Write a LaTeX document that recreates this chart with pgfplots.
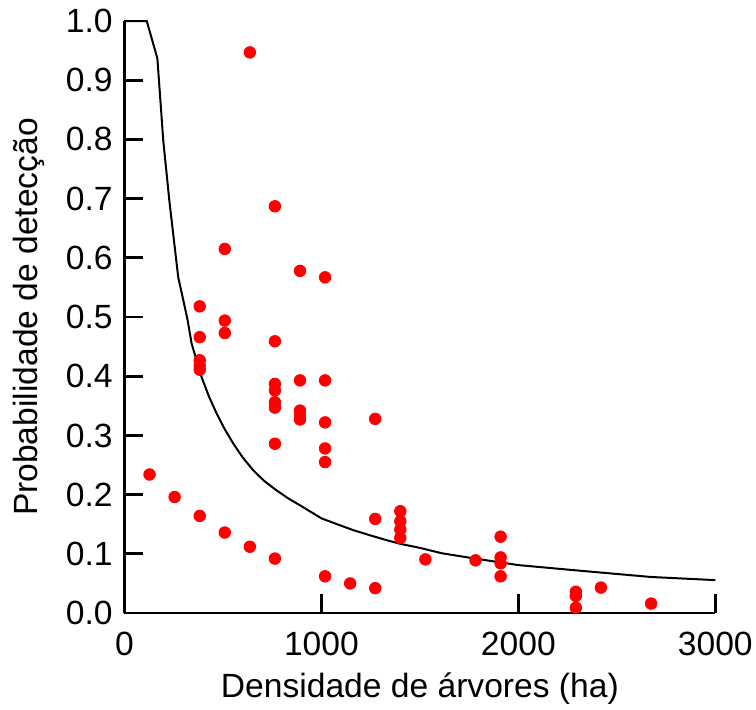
\documentclass[border=0pt]{standalone}
\usepackage{pgfplots}
\pgfplotsset{compat=1.18}
\usepackage{fontspec}
\setmainfont{Liberation Sans}
\begin{document}
\begin{tikzpicture}
\begin{axis}[
 scale only axis, width=295.4pt, height=296pt,
 xmin=0, xmax=3000, ymin=0, ymax=1,
 axis x line=bottom, axis y line=left,
 axis line style={-, line width=1.35pt, black},
 xtick={0,1000,2000,3000},
 ytick={0,0.1,0.2,0.3,0.4,0.5,0.6,0.7,0.8,0.9,1.0},
 minor tick num=0,
 tick align=inside, major tick length=9.5pt,
 tick style={line width=1.35pt, black},
 /pgf/number format/assume math mode=true,
 tick label style={font=\fontsize{16.8}{20}\selectfont, inner sep=0pt},
 x tick label style={/pgf/number format/1000 sep={}, anchor=north, yshift=-9.35pt},
 y tick label style={/pgf/number format/fixed, /pgf/number format/fixed zerofill, /pgf/number format/precision=1, anchor=east, xshift=-5.75pt},
 xlabel={Densidade de árvores (ha)},
 ylabel={Probabilidade de detecção},
 every axis x label/.style={at={(rel axis cs:0.5,-0.1419)}, anchor=base, inner sep=0pt, font=\fontsize{16.8}{20}\selectfont},
 every axis y label/.style={at={(rel axis cs:-0.1616,0.5)}, rotate=90, anchor=center, inner sep=0pt, font=\fontsize{16.8}{20}\selectfont},
 clip=false,
]
\path (rel axis cs:-0.2107,-0.1622) rectangle (rel axis cs:1.0689,1.0355);
\addplot[black, line width=1pt, no marks] coordinates {
(0,1.0) (113,1.0) (167,0.937) (197,0.798) (228,0.696) (273,0.567) (299,0.528)
(321,0.494) (341,0.455) (392,0.398) (430,0.365) (468,0.337) (510,0.310) (553,0.286) (600,0.263) (654,0.241)
(710,0.223) (773,0.207) (830,0.194) (891,0.182) (1000,0.160) (1080,0.150) (1162,0.140) (1250,0.131) (1332,0.123) (1399,0.117)
(1501,0.110) (1611,0.101) (1780,0.092) (2000,0.081) (2279,0.0725) (2500,0.066)
(2669,0.061) (3000,0.0556)
};
\addplot[only marks, mark=*, mark size=2.9pt, color=red, mark options={fill=red, draw=red}] coordinates {
(127.3,0.234)
(254.6,0.196)
(382.0,0.518) (382.0,0.466) (382.0,0.427) (382.0,0.418) (382.0,0.411) (382.0,0.164)
(509.3,0.615) (509.3,0.494) (509.3,0.473) (509.3,0.136)
(636.6,0.947) (636.6,0.112)
(763.9,0.687) (763.9,0.459) (763.9,0.387) (763.9,0.376) (763.9,0.356) (763.9,0.347) (763.9,0.286) (763.9,0.092)
(891.3,0.578) (891.3,0.393) (891.3,0.342) (891.3,0.334) (891.3,0.327)
(1018.6,0.567) (1018.6,0.393) (1018.6,0.322) (1018.6,0.278) (1018.6,0.255) (1018.6,0.062)
(1145.9,0.050)
(1273.2,0.328) (1273.2,0.159) (1273.2,0.042)
(1400.6,0.172) (1400.6,0.155) (1400.6,0.141) (1400.6,0.127)
(1527.9,0.0906)
(1782.5,0.089)
(1909.9,0.129) (1909.9,0.094) (1909.9,0.084) (1909.9,0.062)
(2291.8,0.036) (2291.8,0.029) (2291.8,0.009)
(2419.2,0.043)
(2673.8,0.016)
};
\end{axis}
\end{tikzpicture}
\end{document}
